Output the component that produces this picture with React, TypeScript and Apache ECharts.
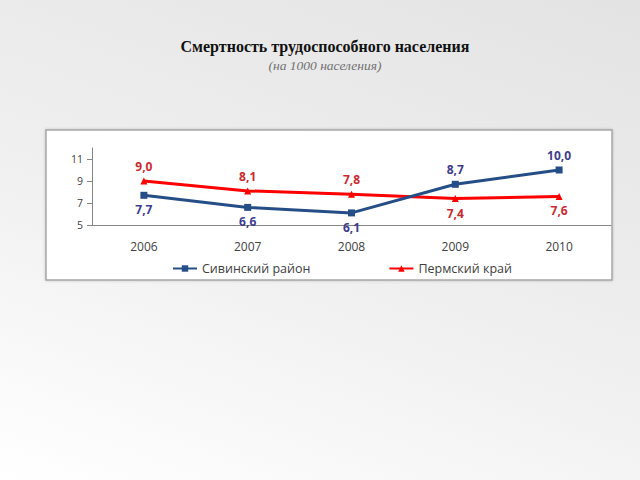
import React, { useEffect, useRef } from "react";
import * as echarts from "echarts";

const years = ["2006", "2007", "2008", "2009", "2010"];
const sivinsky = [7.7, 6.6, 6.1, 8.7, 10.0];
const perm = [9.0, 8.1, 7.8, 7.4, 7.6];
const sivinskyLabelSide = ["bottom", "bottom", "bottom", "top", "top"];
const permLabelSide = ["top", "top", "top", "bottom", "bottom"];
const yTicks = [5, 7, 9, 11];
const seriesNames = ["Сивинский район", "Пермский край"];
const titleText = "Смертность трудоспособного населения";
const subtitleText = "(на 1000 населения)";

const fmt = (v: number) => v.toFixed(1).replace(".", ",");
const FONT = "'Open Sans', 'Noto Sans', sans-serif";

export default function App() {
  const ref = useRef<HTMLDivElement>(null);
  useEffect(() => {
    if (!ref.current) return;
    const chart = echarts.init(ref.current, null, { renderer: "svg" });
    chart.setOption({
      animation: false,
      textStyle: { fontFamily: FONT },
      graphic: [
        {
          type: "rect",
          z: 0,
          shape: { x: 46, y: 130, width: 566, height: 150 },
          style: { fill: "#ffffff", stroke: "#a6a6a6", lineWidth: 1.5, shadowBlur: 3, shadowColor: "rgba(0,0,0,0.2)" },
        },
        {
          type: "text",
          x: 325,
          y: 46,
          style: {
            text: titleText,
            fill: "#111111",
            font: "bold 16px 'Liberation Serif', 'DejaVu Serif', serif",
            textAlign: "center",
            textVerticalAlign: "middle",
          },
        },
        {
          type: "text",
          x: 325,
          y: 65,
          style: {
            text: subtitleText,
            fill: "#707070",
            font: "italic 13.5px 'Liberation Serif', 'DejaVu Serif', serif",
            textAlign: "center",
            textVerticalAlign: "middle",
          },
        },
      ],
      legend: {
        left: 167,
        top: 257,
        itemGap: 78,
        itemWidth: 24,
        itemHeight: 8,
        textStyle: { fontSize: 12.5, color: "#404040", fontFamily: FONT },
        data: seriesNames,
      },
      grid: { left: 92, right: 29, top: 148, bottom: 255, containLabel: false },
      xAxis: {
        type: "category",
        data: years,
        boundaryGap: true,
        axisLine: { lineStyle: { color: "#868686", width: 1 } },
        axisTick: { alignWithLabel: true, length: 5, lineStyle: { color: "#868686" } },
        axisLabel: { color: "#404040", fontSize: 12, margin: 15 },
      },
      yAxis: {
        type: "value",
        min: 5,
        max: 12,
        splitLine: { show: false },
        axisLine: { show: true, lineStyle: { color: "#868686", width: 1 } },
        axisTick: { show: true, length: 5, customValues: yTicks, lineStyle: { color: "#868686" } },
        axisLabel: { color: "#404040", fontSize: 10.5, margin: 9, customValues: yTicks },
      },
      series: [
        {
          name: seriesNames[0],
          type: "line",
          data: sivinsky.map((v, i) => ({ value: v, label: { position: sivinskyLabelSide[i] } })),
          color: "#254E87",
          lineStyle: { width: 3, color: "#254E87" },
          symbol: "rect",
          symbolSize: 7,
          z: 3,
          label: {
            show: true,
            distance: 5,
            formatter: (p: any) => fmt(p.value),
            color: "#3E3C8C",
            fontWeight: "bold",
            fontSize: 12,
          },
        },
        {
          name: seriesNames[1],
          type: "line",
          data: perm.map((v, i) => ({ value: v, label: { position: permLabelSide[i] } })),
          color: "#FF0000",
          lineStyle: { width: 3, color: "#FF0000" },
          symbol: "triangle",
          symbolSize: 7,
          z: 2,
          label: {
            show: true,
            distance: 5,
            formatter: (p: any) => fmt(p.value),
            color: "#CC2A30",
            fontWeight: "bold",
            fontSize: 12,
          },
        },
      ],
    });
    return () => chart.dispose();
  }, []);
  return (
    <div
      style={{
        position: "absolute",
        left: 0,
        top: 0,
        width: 640,
        height: 480,
        background: "linear-gradient(200deg, #e3e3e3 0%, #f0f0f0 55%, #ffffff 100%)",
      }}
    >
      <div ref={ref} style={{ width: 640, height: 480 }} />
    </div>
  );
}
